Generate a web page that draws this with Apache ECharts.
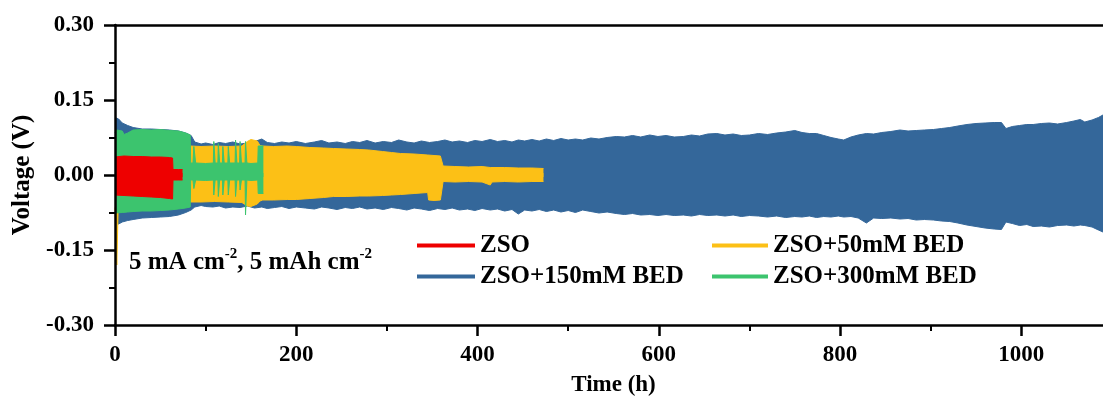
<!DOCTYPE html>
<html>
<head>
<meta charset="utf-8">
<script src="https://cdn.jsdelivr.net/npm/echarts@6/dist/echarts.min.js"></script>
<style>html,body{margin:0;padding:0;background:#fff}#c{width:1103px;height:401px}</style>
</head>
<body>
<div id="c"></div>
<script>
// ---- data (envelopes of the voltage oscillation) ----
const seriesNames = ['ZSO', 'ZSO+50mM BED', 'ZSO+150mM BED', 'ZSO+300mM BED'];
const yTicks = [-0.30, -0.15, 0.00, 0.15, 0.30];
const xTicks = [0, 200, 400, 600, 800, 1000];

// ZSO+150mM BED
const blueT  = [0,4,8,14,20,30,40,50,60,70,78,84,88,95,100,108,115,122,130,138,146,154,162,168,176,184,192,200,210,220,228,236,245,254,262,270,278,287,296,305,313,322,330,338,347,356,364,372,380,389,397,405,414,422,430,438,445,452,460,468,476,484,492,500,508,516,525,534,543,553,562,571,580,590,599,608,617,627,636,645,654,664,673,682,691,700,710,720,730,740,750,758,766,774,782,790,798,804,812,820,829,837,846,856,866,875,884,893,903,912,921,930,940,950,960,970,978,983,990,998,1006,1013,1022,1031,1040,1050,1058,1065,1070,1078,1085,1090,1100];
const blueUp = [0.115,0.112,0.104,0.099,0.095,0.092,0.092,0.091,0.090,0.088,0.084,0.079,0.066,0.062,0.064,0.061,0.065,0.063,0.066,0.062,0.064,0.067,0.072,0.065,0.063,0.066,0.064,0.067,0.063,0.066,0.069,0.064,0.066,0.063,0.067,0.065,0.069,0.064,0.067,0.065,0.070,0.066,0.064,0.068,0.065,0.067,0.070,0.066,0.068,0.065,0.069,0.067,0.071,0.067,0.069,0.066,0.070,0.068,0.071,0.068,0.072,0.069,0.073,0.070,0.072,0.070,0.074,0.072,0.075,0.077,0.076,0.079,0.076,0.080,0.077,0.079,0.076,0.077,0.080,0.078,0.082,0.083,0.080,0.082,0.079,0.080,0.083,0.081,0.084,0.086,0.089,0.085,0.083,0.083,0.079,0.075,0.072,0.070,0.076,0.080,0.083,0.082,0.085,0.087,0.090,0.088,0.089,0.090,0.091,0.093,0.095,0.098,0.101,0.103,0.104,0.105,0.105,0.093,0.097,0.099,0.101,0.101,0.103,0.104,0.102,0.105,0.108,0.111,0.106,0.110,0.115,0.120,0.122];
const blueLo = [-0.097,-0.098,-0.094,-0.091,-0.089,-0.086,-0.085,-0.084,-0.083,-0.080,-0.075,-0.070,-0.064,-0.061,-0.063,-0.064,-0.062,-0.066,-0.064,-0.065,-0.062,-0.066,-0.064,-0.067,-0.065,-0.063,-0.067,-0.064,-0.066,-0.068,-0.064,-0.066,-0.069,-0.065,-0.067,-0.064,-0.068,-0.066,-0.069,-0.065,-0.067,-0.070,-0.066,-0.068,-0.071,-0.067,-0.069,-0.066,-0.070,-0.068,-0.071,-0.067,-0.070,-0.068,-0.072,-0.069,-0.078,-0.070,-0.072,-0.069,-0.073,-0.070,-0.074,-0.071,-0.075,-0.070,-0.073,-0.076,-0.074,-0.077,-0.079,-0.077,-0.080,-0.079,-0.081,-0.079,-0.081,-0.080,-0.082,-0.079,-0.081,-0.080,-0.082,-0.080,-0.083,-0.081,-0.082,-0.084,-0.082,-0.085,-0.083,-0.084,-0.082,-0.085,-0.083,-0.084,-0.082,-0.084,-0.083,-0.086,-0.096,-0.086,-0.087,-0.086,-0.088,-0.087,-0.090,-0.089,-0.090,-0.092,-0.093,-0.096,-0.100,-0.103,-0.106,-0.108,-0.109,-0.094,-0.097,-0.101,-0.099,-0.103,-0.102,-0.104,-0.101,-0.100,-0.102,-0.100,-0.101,-0.104,-0.110,-0.114,-0.116];

// ZSO+50mM BED
const yellowT  = [0,1.8,2.0,3.2,3.5,10,30,60,80,83,95,110,125,140,146,150,157,160,163,175,190,200,215,230,241,255,270,280,295,305,315,330,345,346,352,359,361,362,375,390,405,414,416,430,445,460,472.7];
const yellowUp = [0.080,0.080,0.080,0.078,0.076,0.075,0.075,0.074,0.060,0.058,0.057,0.058,0.057,0.058,0.067,0.071,0.068,0.059,0.058,0.057,0.058,0.057,0.055,0.054,0.053,0.052,0.051,0.050,0.047,0.045,0.043,0.042,0.040,0.040,0.039,0.038,0.037,0.018,0.017,0.016,0.017,0.015,0.016,0.015,0.014,0.014,0.013];
const yellowLo = [-0.065,-0.065,-0.180,-0.180,-0.064,-0.062,-0.062,-0.061,-0.055,-0.054,-0.054,-0.053,-0.054,-0.055,-0.062,-0.063,-0.058,-0.052,-0.050,-0.050,-0.049,-0.049,-0.047,-0.045,-0.043,-0.043,-0.042,-0.042,-0.041,-0.040,-0.039,-0.037,-0.035,-0.050,-0.051,-0.050,-0.049,-0.013,-0.014,-0.013,-0.014,-0.020,-0.014,-0.013,-0.014,-0.013,-0.013];

// ZSO+300mM BED
const greenT  = [0,2,8,10,14,20,30,40,50,60,70,78,83,83.5,86,87,88,89,100,108.5,109,110,110.5,113.5,114,115,115.5,118.5,119,120,120.5,124.5,125,126,126.5,132.5,133,134,134.5,137.5,138,139,139.5,143.5,144,145,145.5,150,157.5,158,163.7];
const greenUp = [0.085,0.090,0.088,0.081,0.084,0.090,0.091,0.090,0.091,0.089,0.088,0.084,0.080,0.024,0.024,0.057,0.057,0.024,0.023,0.024,0.067,0.067,0.024,0.024,0.063,0.063,0.024,0.024,0.057,0.057,0.024,0.024,0.057,0.057,0.024,0.024,0.070,0.070,0.024,0.024,0.067,0.067,0.024,0.024,0.067,0.067,0.024,0.023,0.024,0.058,0.058];
const greenLo = [-0.076,-0.076,-0.075,-0.074,-0.074,-0.073,-0.072,-0.072,-0.071,-0.070,-0.068,-0.066,-0.064,-0.010,-0.010,-0.027,-0.027,-0.010,-0.011,-0.010,-0.040,-0.040,-0.010,-0.010,-0.043,-0.043,-0.010,-0.010,-0.040,-0.040,-0.010,-0.010,-0.040,-0.040,-0.010,-0.010,-0.043,-0.043,-0.010,-0.010,-0.030,-0.030,-0.010,-0.010,-0.080,-0.080,-0.010,-0.011,-0.010,-0.037,-0.037];

// ZSO
const redT  = [0,10,20,30,40,50,60,63.5,64,70,74.5];
const redUp = [0.036,0.038,0.037,0.037,0.036,0.036,0.035,0.034,0.011,0.011,0.011];
const redLo = [-0.040,-0.041,-0.042,-0.043,-0.044,-0.045,-0.047,-0.048,-0.010,-0.010,-0.010];

const colors = {'ZSO':'#EE0000','ZSO+50mM BED':'#FCC016','ZSO+150mM BED':'#34679A','ZSO+300mM BED':'#3CC46E'};

// ---- chart ----
const FONT = 'Liberation Serif';
function band(name, T, up, lo, z) {
  const c = colors[name];
  const mk = (arr) => T.map((t, i) => [t, arr[i]]);
  const base = {type:'line', name:name, showSymbol:false, symbol:'none', silent:true, z:z,
    lineStyle:{width:1, color:c}, itemStyle:{color:c}, animation:false};
  // the two halves overlap slightly around 0 so no seam shows
  return [
    Object.assign({}, base, {data: mk(up), areaStyle:{color:c, opacity:1, origin:-0.004}}),
    Object.assign({}, base, {data: mk(lo), areaStyle:{color:c, opacity:1, origin:0.004}})
  ];
}

const series = [].concat(
  band('ZSO+150mM BED', blueT, blueUp, blueLo, 2),
  band('ZSO+50mM BED', yellowT, yellowUp, yellowLo, 3),
  band('ZSO+300mM BED', greenT, greenUp, greenLo, 4),
  band('ZSO', redT, redUp, redLo, 5)
);

const axisLine = {show:true, onZero:false, lineStyle:{color:'#000', width:2.5}};
const legendText = {fontFamily:FONT, fontWeight:'bold', fontSize:25, color:'#000', lineHeight:25};
const labelFont = {fontFamily:FONT, fontWeight:'bold', fontSize:23, color:'#000'};

const chart = echarts.init(document.getElementById('c'), null, {renderer:'canvas'});
chart.setOption({
  animation:false,
  backgroundColor:'#fff',
  grid:{left:115, top:25, right:-9, bottom:76, containLabel:false, outerBoundsMode:'none'},
  xAxis:[{
    type:'value', min:xTicks[0], max:1100, interval:200, position:'bottom', z:10,
    axisLine:axisLine,
    axisTick:{show:true, inside:false, length:11, lineStyle:{color:'#000', width:2.5}},
    minorTick:{show:true, splitNumber:2, length:6, lineStyle:{color:'#000', width:2}},
    splitLine:{show:false},
    axisLabel:Object.assign({margin:19, formatter:(v)=> xTicks.indexOf(v) >= 0 ? String(v) : ''}, labelFont),
    name:'Time (h)', nameLocation:'middle', nameGap:49,
    nameTextStyle:labelFont
  },{
    type:'value', min:0, max:1100, position:'top', z:10,
    axisLine:axisLine, axisTick:{show:false}, axisLabel:{show:false}, splitLine:{show:false}
  }],
  yAxis:[{
    type:'value', min:yTicks[0], max:yTicks[yTicks.length-1], interval:0.15, z:10,
    axisLine:axisLine,
    axisTick:{show:true, inside:false, length:11, lineStyle:{color:'#000', width:2.5}},
    minorTick:{show:true, splitNumber:2, length:6, lineStyle:{color:'#000', width:2}},
    splitLine:{show:false},
    axisLabel:Object.assign({margin:21, formatter:(v)=> v.toFixed(2)}, labelFont),
    name:'Voltage (V)', nameLocation:'middle', nameGap:80, nameRotate:90,
    nameTextStyle:{fontFamily:FONT, fontWeight:'bold', fontSize:25, color:'#000'}
  }],
  legend:[{
    data:['ZSO','ZSO+150mM BED'], orient:'vertical', left:417, top:233, itemGap:6,
    icon:'rect', itemWidth:58, itemHeight:4, textStyle:legendText, padding:0, selectedMode:false
  },{
    data:['ZSO+50mM BED','ZSO+300mM BED'], orient:'vertical', left:712, top:233, itemGap:6,
    icon:'rect', itemWidth:56, itemHeight:4, textStyle:legendText, padding:0, selectedMode:false
  }],
  graphic:[{
    type:'text', left:129, top:247, silent:true,
    style:{
      text:'{n|5 mA cm}{s|-2}{n|, 5 mAh cm}{s|-2}',
      rich:{
        n:{fontFamily:FONT, fontWeight:'bold', fontSize:25, color:'#000', lineHeight:28, verticalAlign:'bottom'},
        s:{fontFamily:FONT, fontWeight:'bold', fontSize:15, color:'#000', lineHeight:28, verticalAlign:'top'}
      }
    }
  }],
  series:series
});
</script>
</body>
</html>
